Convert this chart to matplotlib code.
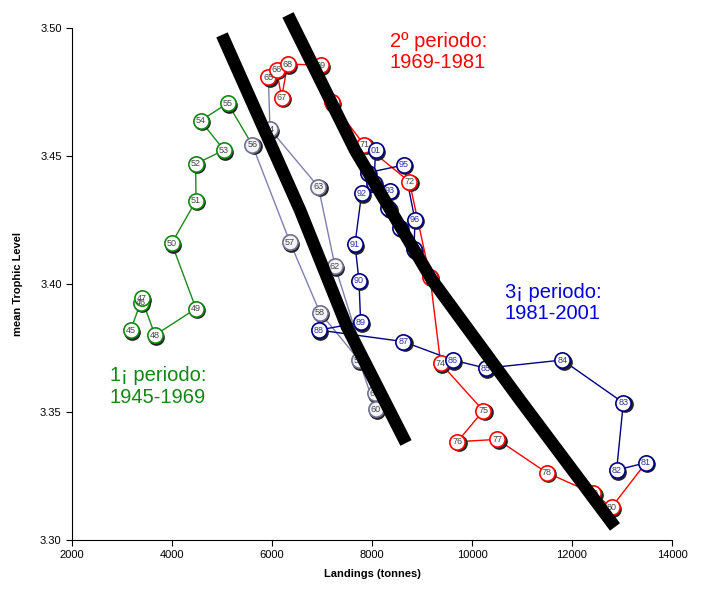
import matplotlib
matplotlib.use("Agg")
import matplotlib.pyplot as plt
import matplotlib.transforms as mtransforms

plt.rcParams["font.family"] = ["Liberation Sans", "DejaVu Sans"]

# period 1 (green)
green_years = ["45", "46", "47", "48", "49", "50", "51", "52", "53", "54", "55", "56"]
green_x = [3173, 3373, 3393, 3660, 4480, 3993, 4480, 4473, 5040, 4573, 5113, 5607]
green_y = [3.382, 3.3927, 3.3944, 3.380, 3.3904, 3.4159, 3.4325, 3.4469, 3.4523, 3.4638, 3.4706, 3.4543]

# transition years (grey)
grey_years = ["56", "57", "58", "59", "60", "61", "62", "63", "64", "65"]
grey_x = [5607, 6360, 6960, 7740, 8073, 8060, 7260, 6927, 5960, 5927]
grey_y = [3.4543, 3.4163, 3.3888, 3.3703, 3.3510, 3.3573, 3.407, 3.438, 3.4605, 3.4807]

# period 2 (red)
red_years = ["65", "66", "67", "68", "69", "70", "71", "72", "73", "74", "75", "76",
             "77", "78", "79", "80", "81"]
red_x = [5927, 6093, 6193, 6313, 6973, 7193, 7847, 8747, 9160, 9373, 10227, 9707,
         10507, 11493, 12427, 12793, 13480]
red_y = [3.4807, 3.4836, 3.4728, 3.4859, 3.4855, 3.4710, 3.4543, 3.440, 3.4029, 3.369,
         3.3505, 3.3384, 3.3393, 3.3263, 3.3182, 3.3128, 3.3302]

# period 3 (blue)
blue_years = ["81", "82", "83", "84", "85", "86", "87", "88", "89", "90", "91", "92",
              "93", "94", "95", "96", "97", "98", "99", "00", "01"]
blue_x = [13480, 12893, 13027, 11807, 10280, 9613, 8627, 6940, 7773, 7740, 7660, 7793,
          8360, 7920, 8640, 8860, 8840, 8560, 8327, 8040, 8073]
blue_y = [3.3302, 3.3273, 3.3536, 3.3703, 3.3671, 3.3703, 3.3775, 3.382, 3.385, 3.4013,
          3.4156, 3.4354, 3.4364, 3.4435, 3.4465, 3.425, 3.4136, 3.4219, 3.4296, 3.4395,
          3.4523]

# hand-drawn trend strokes
stroke1_x = [5000, 6560, 7500, 8680]
stroke1_y = [3.4973, 3.4289, 3.3832, 3.3379]
stroke2_x = [6320, 7660, 9200, 10960, 12860]
stroke2_y = [3.5051, 3.4523, 3.4016, 3.3547, 3.3051]

fig = plt.figure(figsize=(7.01, 5.89), dpi=100)
ax = fig.add_axes([0.1027, 0.0832, 0.8559, 0.8693])
shadow = mtransforms.offset_copy(ax.transData, fig=fig, x=1.5, y=-1.5, units="dots")


def draw_series(xs, ys, years, line_color, edge, face, text_color, marker_slice):
    ax.plot(xs, ys, color=line_color, lw=1.0, zorder=2)
    mx, my, labels = xs[marker_slice], ys[marker_slice], years[marker_slice]
    ax.plot(mx, my, "o", ms=11, color="#222222", mec="#222222", transform=shadow, zorder=3)
    ax.plot(mx, my, "o", ms=11, mfc=face, mec=edge, mew=1.2, ls="none", zorder=4)
    for x, y, lab in zip(mx, my, labels):
        ax.text(x, y, lab, fontsize=6.5, color=text_color, ha="center", va="center", zorder=5)


draw_series(green_x, green_y, green_years, "#1a8a1a", "#118811", "white", "#444444", slice(0, 11))
draw_series(grey_x, grey_y, grey_years, "#8080b0", "#707090", "#f4f4f8", "#444444", slice(0, 9))
draw_series(red_x, red_y, red_years, "#ff0000", "#ff0000", "white", "#444444", slice(0, 16))
draw_series(blue_x, blue_y, blue_years, "#000080", "#000080", "white", "#3030a0", slice(0, 21))

ax.plot(stroke1_x, stroke1_y, color="black", lw=9, solid_capstyle="butt",
        solid_joinstyle="round", zorder=10, clip_on=False)
ax.plot(stroke2_x, stroke2_y, color="black", lw=9, solid_capstyle="butt",
        solid_joinstyle="round", zorder=10, clip_on=False)

ax.text(8360, 3.4985, "2º periodo:\n1969-1981", color="#ff0000", fontsize=14.5,
        va="top", ha="left", linespacing=1.15)
ax.text(10660, 3.4005, "3¡ periodo:\n1981-2001", color="#0000dd", fontsize=14.5,
        va="top", ha="left", linespacing=1.15)
ax.text(2760, 3.3678, "1¡ periodo:\n1945-1969", color="#118811", fontsize=14.5,
        va="top", ha="left", linespacing=1.15)

ax.set_xlim(2000, 14000)
ax.set_ylim(3.30, 3.50)
ax.set_xticks(range(2000, 14001, 2000))
ax.set_yticks([3.30, 3.35, 3.40, 3.45, 3.50])
ax.set_yticklabels(["3.30", "3.35", "3.40", "3.45", "3.50"])
ax.tick_params(labelsize=8, direction="out", length=4, width=0.8)
ax.spines["top"].set_visible(False)
ax.spines["right"].set_visible(False)
ax.set_xlabel("Landings (tonnes)", fontsize=8, fontweight="bold", labelpad=6)
ax.set_ylabel("mean Trophic Level", fontsize=8, fontweight="bold", labelpad=12)

fig.savefig("out.png", dpi=100)
